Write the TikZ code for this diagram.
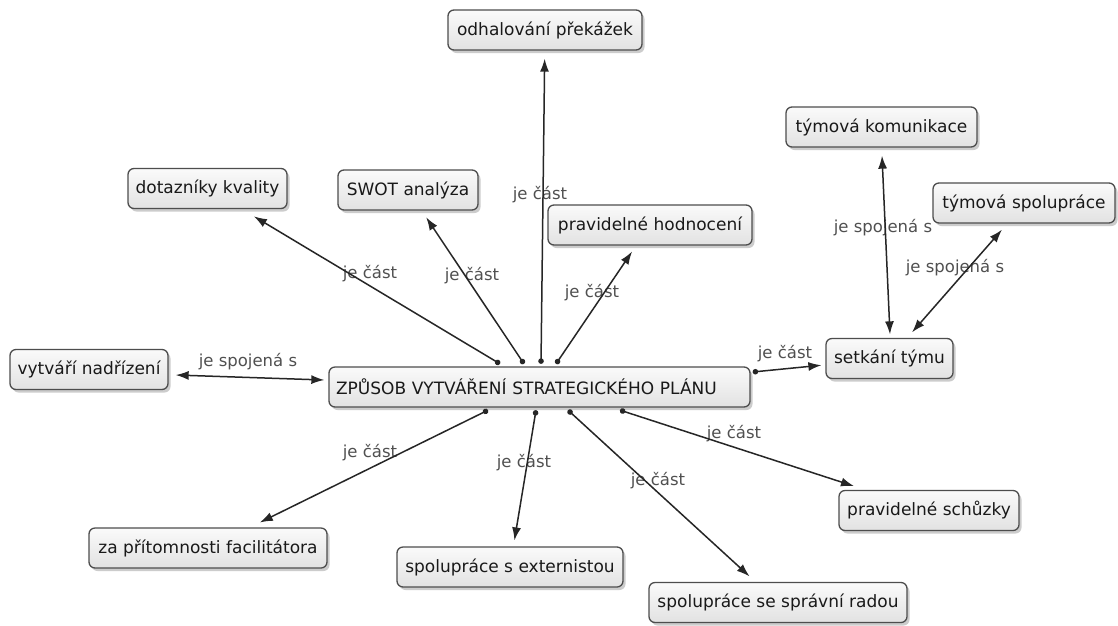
\documentclass[tikz,border=0pt]{standalone}
\usepackage{fontspec}
\setmainfont{DejaVu Sans}
\usetikzlibrary{arrows.meta,shadows}
\definecolor{boxline}{HTML}{4D4D4D}
\definecolor{boxtop}{HTML}{FAFAFA}
\definecolor{boxbottom}{HTML}{E2E2E2}
\definecolor{linktext}{HTML}{505050}
\tikzset{
  concept/.style={draw=boxline,line width=1.3pt,rounded corners=6pt,
    top color=boxtop,bottom color=boxbottom,minimum height=40pt,inner xsep=6pt,
    text=black!90,font=\fontsize{17}{20}\selectfont,
    drop shadow={shadow xshift=2.5pt,shadow yshift=-3pt,opacity=0.4}},
  phrase/.style={text=linktext,font=\fontsize{16.5}{19}\selectfont,inner sep=0pt},
  part/.style={line width=1.5pt,draw=black!85,shorten >=8pt,
    arrows={Circle[length=5.5pt]-Latex[length=13pt,width=9pt]}},
  assoc/.style={line width=1.5pt,draw=black!85,
    arrows={Latex[length=13pt,width=9pt]-Latex[length=13pt,width=9pt]}}
}
\begin{document}
\begin{tikzpicture}[x=1pt,y=-1pt]
      \useasboundingbox[fill=white] (0,0) rectangle (1118,625);
      \draw
        (539.5,387) node[concept,text width=407pt,inner xsep=7pt,align=left] (main){ZPŮSOB VYTVÁŘENÍ STRATEGICKÉHO PLÁNU}
        (545,30) node[concept,minimum width=194pt] (odhal){odhalování překážek}
        (207.5,188.5) node[concept,minimum width=159pt] (dotaz){dotazníky kvality}
        (408,190) node[concept,minimum width=140pt] (swot){SWOT analýza}
        (650,225) node[concept,minimum width=204pt] (hodnoc){pravidelné hodnocení}
        (881.5,127) node[concept,minimum width=191pt] (komun){týmová komunikace}
        (1024,203) node[concept,minimum width=182pt] (spolupr){týmová spolupráce}
        (889.5,358.5) node[concept,minimum width=127pt] (setkani){setkání týmu}
        (89,369.5) node[concept,minimum width=158pt] (vytvari){vytváří nadřízení}
        (208,548) node[concept,minimum width=238pt] (facil){za přítomnosti facilitátora}
        (510,567) node[concept,minimum width=226pt] (extern){spolupráce s externistou}
        (778,602.5) node[concept,minimum width=258pt] (sprav){spolupráce se správní radou}
        (929,510.5) node[concept,minimum width=180pt] (schuz){pravidelné schůzky};
      \draw
        (248,362) node[phrase] (l-vytvari){je spojená s}
        (370,274) node[phrase] (l-dotaz){je část}
        (472,276) node[phrase] (l-swot){je část}
        (540,195) node[phrase] (l-odhal){je část}
        (592,293) node[phrase] (l-hodnoc){je část}
        (785,354) node[phrase] (l-setkani){je část}
        (883,228) node[phrase] (l-komun){je spojená s}
        (955,268) node[phrase] (l-spolupr){je spojená s}
        (370,453) node[phrase] (l-facil){je část}
        (524,463) node[phrase] (l-extern){je část}
        (658,481) node[phrase] (l-sprav){je část}
        (734,434) node[phrase] (l-schuz){je část};
      \begin{scope}[part]
        \draw[shorten >=14pt] ([xshift=-39.5pt,yshift=2.5pt]main.north) to (dotaz);
        \draw ([xshift=-15.5pt,yshift=2.5pt]main.north) to (swot);
        \draw ([xshift=1.5pt,yshift=2.5pt]main.north) to (odhal);
        \draw[shorten >=7pt] ([xshift=16.5pt,yshift=2.5pt]main.north) to (hodnoc);
        \draw[shorten >=4pt] ([xshift=2pt,yshift=15pt]main.east) to (setkani);
        \draw[shorten >=11pt] ([xshift=-51.5pt,yshift=-2.5pt]main.south) to (facil);
        \draw[shorten >=6pt] ([xshift=-3.5pt,yshift=-2.5pt]main.south) to (extern);
        \draw ([xshift=28.5pt,yshift=-2.5pt]main.south) to (sprav);
        \draw[shorten >=12pt] ([xshift=80.5pt,yshift=-2.5pt]main.south) to (schuz);
      \end{scope}
      \begin{scope}[assoc]
        \draw ([xshift=7pt,yshift=-5.5pt]vytvari.east) to ([xshift=-4pt,yshift=7pt]main.west);
        \draw ([xshift=0.5pt,yshift=-8pt]komun.south) to ([xshift=0.5pt,yshift=3.5pt]setkani.north);
        \draw ([xshift=-22pt,yshift=-6pt]spolupr.south) to ([xshift=22.5pt,yshift=5.5pt]setkani.north);
      \end{scope}
    \end{tikzpicture}
\end{document}
